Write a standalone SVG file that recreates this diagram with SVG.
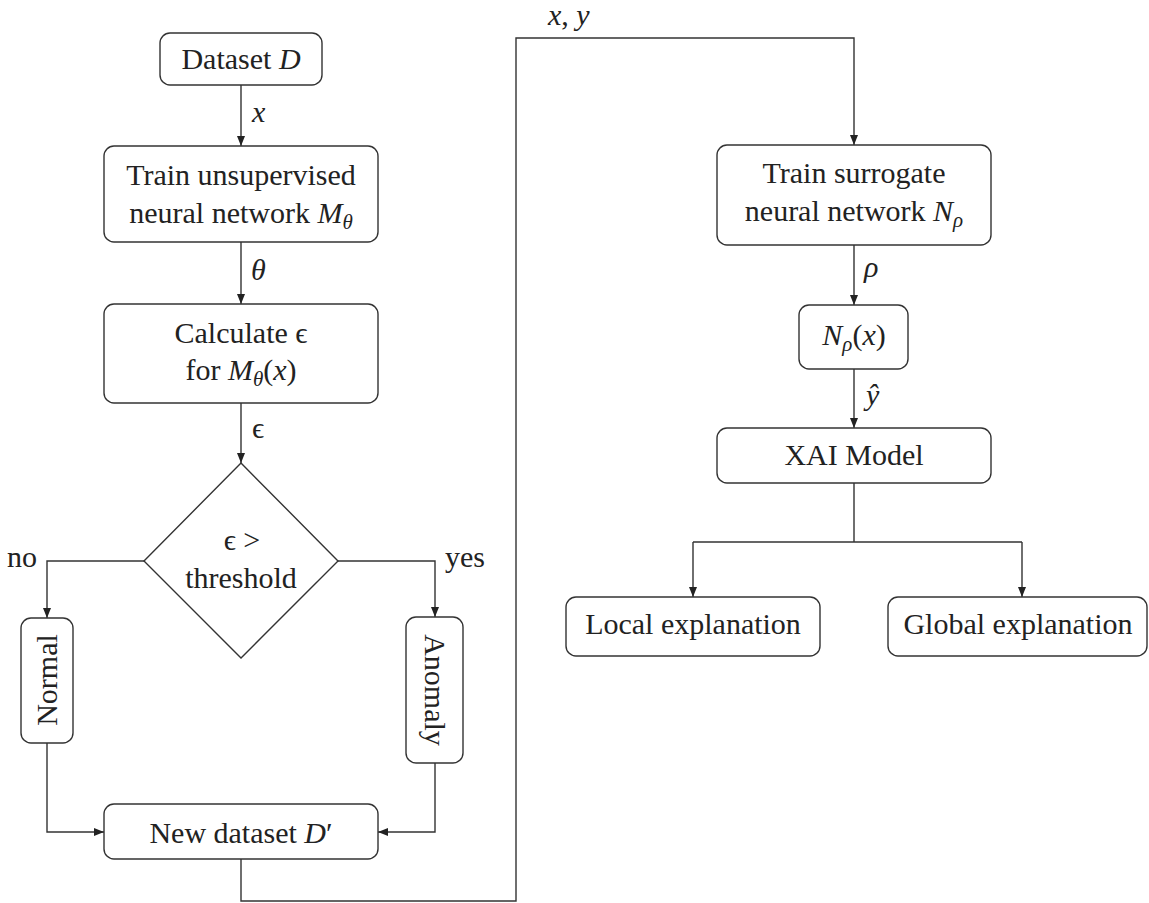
<svg xmlns="http://www.w3.org/2000/svg" width="1149" height="903" viewBox="0 0 1149 903" font-family="Liberation Serif, Times New Roman, DejaVu Serif, Noto Serif, serif">
<style>
.box{fill:#fff;stroke:#333;stroke-width:1.4}
.t{font-family:'Liberation Serif','Times New Roman','DejaVu Serif','Noto Serif',serif;font-size:30px;fill:#222;text-anchor:middle}
.l{font-family:'Liberation Serif','Times New Roman','DejaVu Serif','Noto Serif',serif;font-size:30px;fill:#222}
.m{font-style:italic}
.s{font-size:21px;font-style:italic}
.c{fill:none;stroke:#333;stroke-width:1.4}
.a{marker-end:url(#ah)}
</style>
<defs>
<marker id="ah" markerUnits="userSpaceOnUse" viewBox="0 0 10 8" markerWidth="10" markerHeight="8" refX="10" refY="4" orient="auto">
<path d="M0,0 L10,4 L0,8 z" fill="#222"/>
</marker>
</defs>
<g id="connectors">
<path class="c a" d="M241,85 V146"/>
<path class="c a" d="M241,242 V304"/>
<path class="c a" d="M241,403 V463"/>
<path class="c a" d="M144,561 H47 V618"/>
<path class="c a" d="M338,561 H435 V617"/>
<path class="c a" d="M47,743 V832 H104"/>
<path class="c a" d="M435,763 V832 H378"/>
<path class="c a" d="M241,859 V901 H516 V38 H854 V145"/>
<path class="c a" d="M854,245 V305"/>
<path class="c a" d="M854,369 V428"/>
<path class="c" d="M854,483 V542 M693,542 H1022"/>
<path class="c a" d="M693,542 V597"/>
<path class="c a" d="M1022,542 V597"/>
<text class="l m" x="252" y="122">x</text>
<text class="l m" x="251" y="280">θ</text>
<text class="l" x="252" y="438">ϵ</text>
<text class="l" x="7" y="567">no</text>
<text class="l" x="445" y="567">yes</text>
<text class="l m" x="548" y="25">x<tspan font-style="normal">,</tspan> y</text>
<text class="l m" x="864" y="277">ρ</text>
<text class="l m" x="866" y="405">ŷ</text>
</g>
<g id="dataset">
<rect class="box" x="160" y="33" width="162" height="52" rx="10"/>
<text class="t" x="241" y="69">Dataset <tspan class="m">D</tspan></text>
</g>
<g id="train-unsupervised">
<rect class="box" x="104" y="146" width="274" height="96" rx="10"/>
<text class="t" x="241" y="185">Train unsupervised</text>
<text class="t" x="241" y="223">neural network <tspan class="m">M</tspan><tspan class="s" dy="6">θ</tspan></text>
</g>
<g id="calculate">
<rect class="box" x="104" y="304" width="274" height="99" rx="10"/>
<text class="t" x="241" y="343">Calculate ϵ</text>
<text class="t" x="241" y="380">for <tspan class="m">M</tspan><tspan class="s" dy="6">θ</tspan><tspan dy="-6">(</tspan><tspan class="m">x</tspan>)</text>
</g>
<g id="decision">
<path class="box" d="M241,463 L338,561 L241,658 L144,561 Z"/>
<text class="t" x="242" y="550">ϵ &gt;</text>
<text class="t" x="241" y="588">threshold</text>
</g>
<g id="normal">
<rect class="box" x="21" y="618" width="52" height="125" rx="10"/>
<text class="t" transform="translate(57,680) rotate(-90)">Normal</text>
</g>
<g id="anomaly">
<rect class="box" x="406" y="617" width="57" height="146" rx="10"/>
<text class="t" transform="translate(425,690) rotate(90)">Anomaly</text>
</g>
<g id="new-dataset">
<rect class="box" x="104" y="804" width="274" height="55" rx="10"/>
<text class="t" x="241" y="843">New dataset <tspan class="m">D</tspan>′</text>
</g>
<g id="train-surrogate">
<rect class="box" x="717" y="145" width="274" height="100" rx="10"/>
<text class="t" x="854" y="183">Train surrogate</text>
<text class="t" x="854" y="221">neural network <tspan class="m">N</tspan><tspan class="s" dy="6">ρ</tspan></text>
</g>
<g id="n-rho">
<rect class="box" x="799" y="305" width="109" height="64" rx="10"/>
<text class="t" x="854" y="345"><tspan class="m">N</tspan><tspan class="s" dy="6">ρ</tspan><tspan dy="-6">(</tspan><tspan class="m">x</tspan>)</text>
</g>
<g id="xai">
<rect class="box" x="717" y="428" width="274" height="55" rx="10"/>
<text class="t" x="854" y="465">XAI Model</text>
</g>
<g id="local">
<rect class="box" x="566" y="597" width="254" height="59" rx="10"/>
<text class="t" x="693" y="634">Local explanation</text>
</g>
<g id="global">
<rect class="box" x="888" y="597" width="259" height="59" rx="10"/>
<text class="t" x="1018" y="634">Global explanation</text>
</g>
</svg>
